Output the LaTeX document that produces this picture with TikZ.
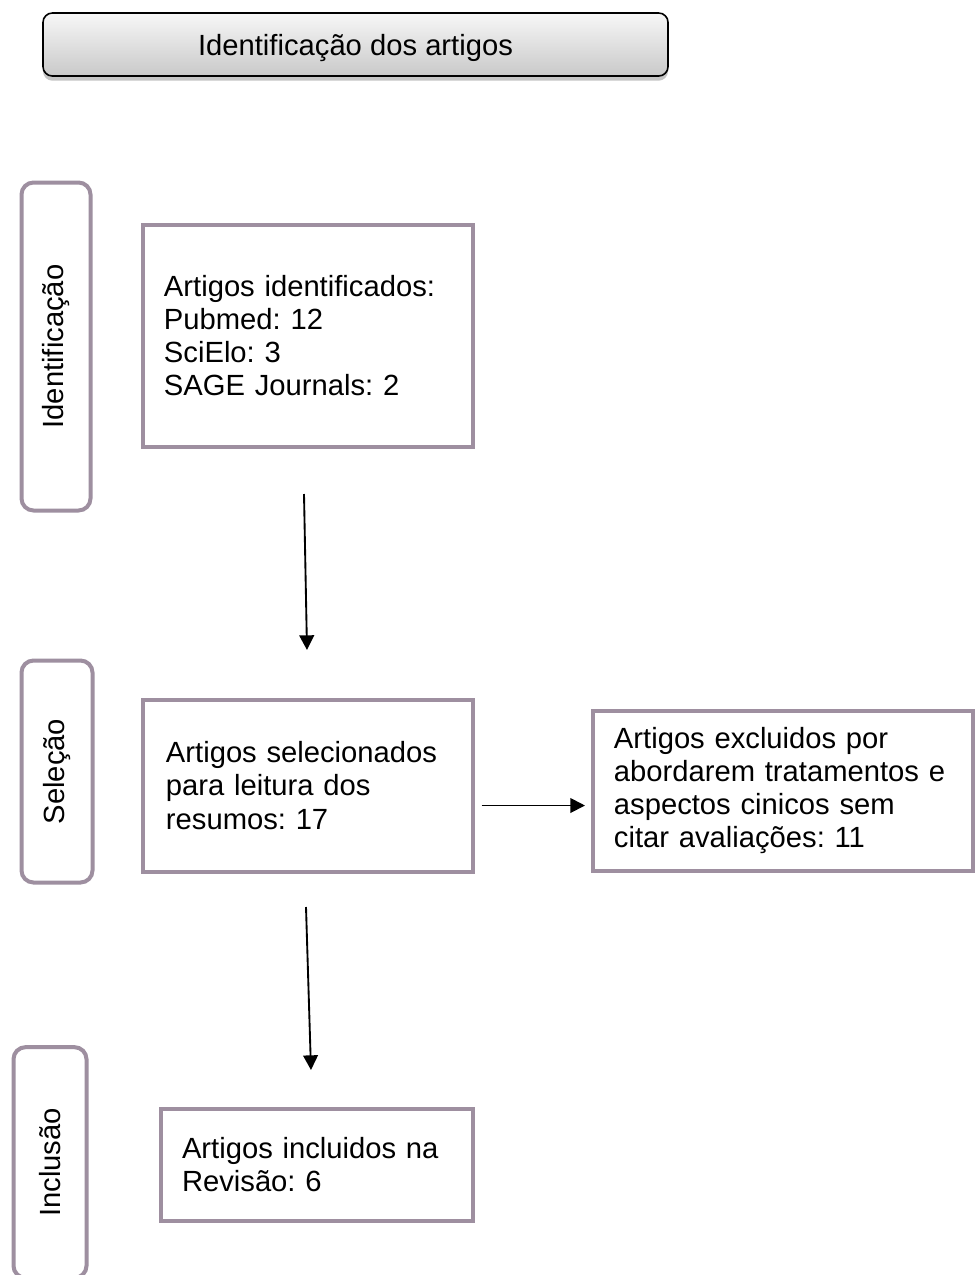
\documentclass[tikz,border=0pt]{standalone}
\usepackage{fontspec}
\setmainfont{Liberation Sans}
\usepackage{tikz}
\usetikzlibrary{arrows.meta,shadows}
\definecolor{boxline}{HTML}{9E8FA0}
\definecolor{shadetop}{HTML}{F7F7F7}
\definecolor{shadebot}{HTML}{C9C9C9}
\frenchspacing

\begin{document}
\begin{tikzpicture}[x=0.75pt, y=-0.75pt, every node/.style={font=\fontsize{21.9}{24.8}\selectfont}]
\tikzset{
  phasebox/.style={draw=boxline, line width=3pt, rounded corners=9pt, rotate=90, inner sep=0pt},
  recbox/.style={draw=boxline, line width=3pt, align=left, inner ysep=0pt},
  arr/.style={-{Triangle[length=11pt, width=11pt]}, line width=1.4pt}
}
\useasboundingbox (0,0) rectangle (976,1275);
\clip (0,0) rectangle (976,1275);
\fill[white] (0,0) rectangle (976,1275);

% title bar
\node[draw=black, line width=1.2pt, rounded corners=7pt, top color=shadetop, bottom color=shadebot,
  drop shadow={shadow xshift=0pt, shadow yshift=-3.5pt, opacity=0.45},
  text depth=0pt, minimum width=468.75pt, minimum height=47.25pt] (title) at (355.5,44.5) {Identificação dos artigos};

% phases on the left
\node[phasebox, minimum width=246pt, minimum height=51.75pt] (ph1) at (56,346.5) {Identificação};
\node[phasebox, minimum width=166.5pt, minimum height=53.25pt] (ph2) at (57,771.5) {Seleção};
\node[phasebox, minimum width=173pt, minimum height=54.75pt] (ph3) at (50,1162.5) {Inclusão};

% records
\node[recbox, text width=215.3pt, inner xsep=16.1pt, minimum height=166.5pt] (found) at (307.5,335.5)
  {Artigos identificados:\\ Pubmed: 12\\ SciElo: 3\\ SAGE Journals: 2};
\node[recbox, text width=212.3pt, inner xsep=17.6pt, minimum height=129pt] (screen) at (307.5,785.5)
  {Artigos selecionados\\ para leitura dos\\ resumos: 17};
\node[recbox, text width=252.8pt, inner xsep=16.1pt, minimum height=120pt] (excl) at (782.5,790.5)
  {Artigos excluidos por\\ abordarem tratamentos e\\ aspectos cinicos sem\\ citar avaliações: 11};
\node[recbox, text width=202.5pt, inner xsep=16.1pt, minimum height=84pt] (incl) at (317,1164.5)
  {Artigos incluidos na\\ Revisão: 6};

% flow
\draw[arr] ([shift={(-3.5,45.5)}]found.south) -- ([shift={(-0.5,-47.5)}]screen.north);
\draw[arr] ([shift={(7,20)}]screen.east) -- ([shift={(-5.5,15)}]excl.west);
\draw[arr] ([shift={(-1.5,33.5)}]screen.south) -- ([shift={(-6,-36.5)}]incl.north);
\end{tikzpicture}
\end{document}
